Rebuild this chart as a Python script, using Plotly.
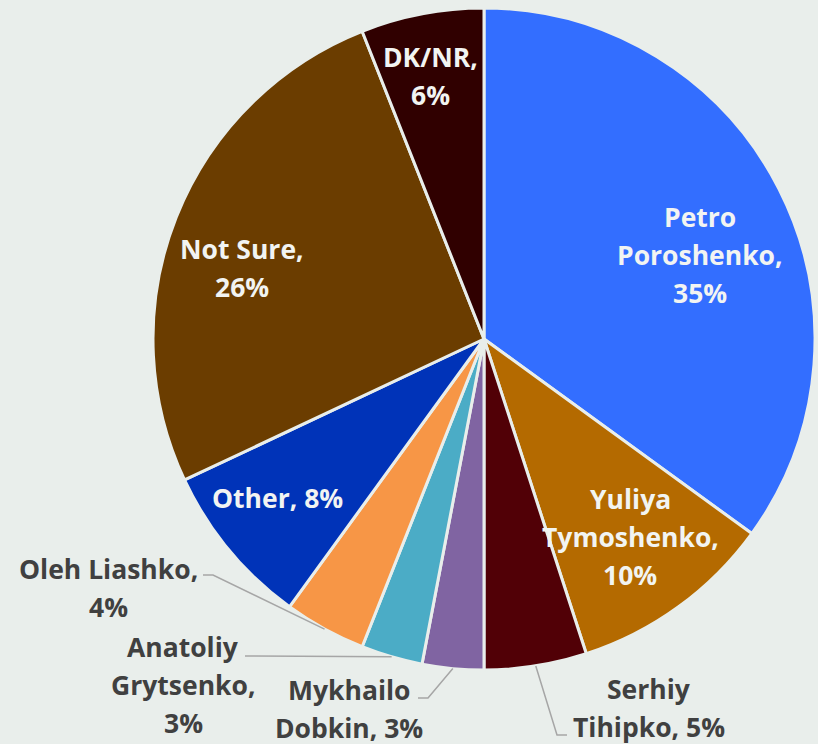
import math
import plotly.graph_objects as go

# ---- data ----
labels = ["Petro Poroshenko", "Yuliya Tymoshenko", "Serhiy Tihipko", "Mykhailo Dobkin",
          "Anatoliy Grytsenko", "Oleh Liashko", "Other", "Not Sure", "DK/NR"]
values = [35, 10, 5, 3, 3, 4, 8, 26, 6]
label_text = ["Petro|Poroshenko,|{p}%", "Yuliya|Tymoshenko,|{p}%", "Serhiy|Tihipko, {p}%",
              "Mykhailo|Dobkin, {p}%", "Anatoliy|Grytsenko,|{p}%", "Oleh Liashko,|{p}%",
              "Other, {p}%", "Not Sure,|{p}%", "DK/NR,|{p}%"]
colors = ["#336EFF", "#B46A00", "#510006", "#8064A2", "#4BACC6", "#F79646",
          "#0033B8", "#6B3D00", "#300000"]

# ---- layout / styling ----
W, H = 818, 744
CX, CY, R = 484, 339, 331
BG = "#E9EEEB"
FONT = "Open Sans"
FSIZE = 26.5
LINE_H = 38

# label block centre (px) and leader line start/elbow (px) for outside labels
placement = {
    "Petro Poroshenko": dict(pos=(700, 255), inside=True),
    "Yuliya Tymoshenko": dict(pos=(630, 537), inside=True),
    "Serhiy Tihipko": dict(pos=(649, 708), inside=False, leader=[(567, 735), (557, 735)]),
    "Mykhailo Dobkin": dict(pos=(349, 709), inside=False, leader=[(418, 698), (428, 698)]),
    "Anatoliy Grytsenko": dict(pos=(183, 685), inside=False, leader=[(245, 656)]),
    "Oleh Liashko": dict(pos=(108, 588), inside=False, leader=[(203, 575), (213, 575)]),
    "Other": dict(pos=(277, 498), inside=True),
    "Not Sure": dict(pos=(242, 268), inside=True),
    "DK/NR": dict(pos=(430, 76), inside=True),
}


def px(x):
    return x / W


def py(y):
    return 1 - y / H


fig = go.Figure(go.Pie(
    labels=labels, values=values, sort=False, direction="clockwise", rotation=0,
    marker=dict(colors=colors, line=dict(color=BG, width=3)),
    textinfo="none", hoverinfo="label+percent", showlegend=False,
    domain=dict(x=[px(CX - R), px(CX + R)], y=[py(CY + R), py(CY - R)]),
))

annotations = []
shapes = []
total = sum(values)
cum = 0
for name, v, fmt in zip(labels, values, label_text):
    mid = (cum + v / 2) / total * 2 * math.pi
    cum += v
    pl = placement[name]
    lines = fmt.format(p=round(100 * v / total)).split("|")
    n = len(lines)
    x0, y0 = pl["pos"]
    col = "#F2F4F2" if pl["inside"] else "#404040"
    for i, ln in enumerate(lines):
        yy = y0 + (i - (n - 1) / 2) * LINE_H
        annotations.append(dict(
            x=px(x0), y=py(yy), xref="paper", yref="paper", text=ln, showarrow=False,
            xanchor="center", yanchor="middle",
            font=dict(family=FONT, size=FSIZE, color=col, weight="bold")))
    if not pl["inside"]:
        ex = CX + R * math.sin(mid)
        ey = CY - R * math.cos(mid)
        pts = pl["leader"] + [(ex, ey)]
        path = "M " + " L ".join(f"{px(a):.5f},{py(b):.5f}" for a, b in pts)
        shapes.append(dict(type="path", xref="paper", yref="paper", path=path,
                           line=dict(color="#A6A6A6", width=1.5)))

fig.update_layout(
    width=W, height=H, margin=dict(l=0, r=0, t=0, b=0),
    paper_bgcolor=BG, plot_bgcolor=BG,
    annotations=annotations, shapes=shapes,
)

fig.write_html("out.html", config={"displayModeBar": False},
               post_script="document.body.style.margin='0';document.body.style.overflow='hidden';")
